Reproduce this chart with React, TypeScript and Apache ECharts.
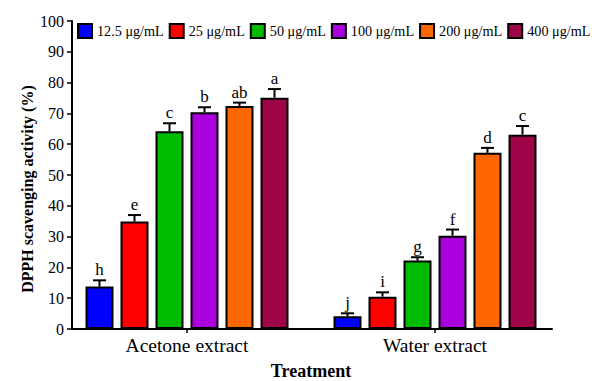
import React, { useEffect, useRef } from "react";
import * as echarts from "echarts";

const categories = ["Acetone extract", "Water extract"];
const seriesNames = ["12.5 μg/mL", "25 μg/mL", "50 μg/mL", "100 μg/mL", "200 μg/mL", "400 μg/mL"];
const colors = ["#0000FF", "#FF0000", "#00BB00", "#AA00DD", "#FF6600", "#9E0548"];
// values per concentration: [Acetone, Water]
const values = [
  [13.8, 4.1],
  [34.9, 10.5],
  [64.2, 22.2],
  [70.4, 30.3],
  [72.4, 57.2],
  [75.1, 63.1],
];
const errors = [
  [2.0, 1.0],
  [2.1, 1.4],
  [2.6, 1.1],
  [1.6, 2.0],
  [1.1, 1.6],
  [2.8, 2.8],
];
const letters = [
  ["h", "j"],
  ["e", "i"],
  ["c", "g"],
  ["b", "f"],
  ["ab", "d"],
  ["a", "c"],
];
const yTicks = { min: 0, max: 100, interval: 10 };

const FONT = '"Liberation Serif", "Times New Roman", serif';
const BAR_W = 28;
const BAR_GAP = 7;

export default function App() {
  const ref = useRef<HTMLDivElement>(null);
  useEffect(() => {
    if (!ref.current) return;
    document.body.style.margin = "0";
    const chart = echarts.init(ref.current, null, { renderer: "svg" });

    const errData: any[] = [];
    const errLetters: string[] = [];
    values.forEach((row, s) => {
      row.forEach((v, c) => {
        errData.push([c, s, v, errors[s][c]]);
        errLetters.push(letters[s][c]);
      });
    });

    const barSeries = seriesNames.map((name, s) => ({
      name,
      type: "bar",
      xAxisIndex: 1,
      yAxisIndex: 1,
      data: values[s],
      barWidth: BAR_W,
      barGap: `${(BAR_GAP / BAR_W) * 100}%`,
      itemStyle: { color: colors[s], borderColor: "#000", borderWidth: 2 },
    }));

    const option: any = {
      animation: false,
      textStyle: { fontFamily: FONT },
      legend: {
        data: seriesNames,
        left: 77,
        top: 23,
        width: 560,
        icon: "rect",
        itemWidth: 14,
        itemHeight: 14,
        itemGap: 5,
        padding: 0,
        textStyle: { fontFamily: FONT, fontSize: 14.2, color: "#000" },
        itemStyle: { borderColor: "#000", borderWidth: 2 },
      },
      grid: [
        { left: 72, right: 40, top: 21, bottom: 52, outerBoundsMode: "none", containLabel: false },
        { left: 63, right: 33, top: 21, bottom: 52, outerBoundsMode: "none", containLabel: false },
      ],
      xAxis: [
        {
          type: "value",
          gridIndex: 0,
          min: 0,
          max: 1,
          axisLine: { show: true, lineStyle: { color: "#000", width: 2 } },
          axisTick: { show: false },
          axisLabel: { show: false },
          splitLine: { show: false },
        },
        {
          type: "category",
          gridIndex: 1,
          data: categories,
          axisLine: { show: false },
          axisTick: { show: true, alignWithLabel: true, length: 4, lineStyle: { color: "#000", width: 1.5 } },
          axisLabel: { fontFamily: FONT, fontSize: 19.5, color: "#000", margin: 6 },
          name: "Treatment",
          nameLocation: "middle",
          nameGap: 33,
          nameTextStyle: { fontFamily: FONT, fontSize: 18, fontWeight: "bold", color: "#000" },
        },
      ],
      yAxis: [
        {
          type: "value",
          gridIndex: 0,
          min: yTicks.min,
          max: yTicks.max,
          interval: yTicks.interval,
          axisLine: { show: true, lineStyle: { color: "#000", width: 2 } },
          axisTick: { show: true, length: 5, lineStyle: { color: "#000", width: 1.5 } },
          axisLabel: { fontFamily: FONT, fontSize: 16, color: "#000", margin: 8 },
          splitLine: { show: false },
        },
        {
          type: "value",
          gridIndex: 1,
          min: yTicks.min,
          max: yTicks.max,
          interval: yTicks.interval,
          show: false,
          splitLine: { show: false },
        },
      ],
      graphic: [
        {
          type: "text",
          x: 27,
          y: 189,
          rotation: Math.PI / 2,
          style: {
            text: "DPPH scavenging activity (%)",
            fontFamily: FONT,
            fontSize: 16,
            fontWeight: "bold",
            fill: "#000",
            textAlign: "center",
            textVerticalAlign: "middle",
          },
        },
      ],
      series: [
        ...barSeries,
        {
          type: "custom",
          xAxisIndex: 1,
          yAxisIndex: 1,
          z: 5,
          data: errData,
          encode: { x: 0, y: 2 },
          renderItem: (params: any, api: any) => {
            const c = api.value(0);
            const s = api.value(1);
            const v = api.value(2);
            const e = api.value(3);
            const base = api.coord([c, v]);
            const top = api.coord([c, v + e]);
            const x = base[0] + (s - 2.5) * (BAR_W + BAR_GAP);
            const capHalf = 6.5;
            return {
              type: "group",
              children: [
                {
                  type: "line",
                  shape: { x1: x, y1: base[1], x2: x, y2: top[1] },
                  style: { stroke: "#000", lineWidth: 2 },
                },
                {
                  type: "line",
                  shape: { x1: x - capHalf, y1: top[1], x2: x + capHalf, y2: top[1] },
                  style: { stroke: "#000", lineWidth: 2 },
                },
                {
                  type: "text",
                  x: x,
                  y: top[1] - 2,
                  style: {
                    text: errLetters[params.dataIndex],
                    fontFamily: FONT,
                    fontSize: 17,
                    fill: "#000",
                    textAlign: "center",
                    textVerticalAlign: "bottom",
                  },
                },
              ],
            };
          },
        },
      ],
    };

    chart.setOption(option);
    return () => chart.dispose();
  }, []);
  return <div ref={ref} style={{ width: 592, height: 381 }} />;
}
